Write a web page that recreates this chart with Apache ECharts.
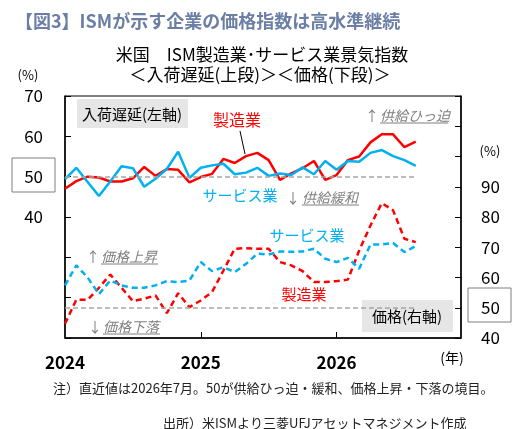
<!DOCTYPE html>
<html>
<head>
<meta charset="utf-8">
<script src="https://cdn.jsdelivr.net/npm/echarts@6/dist/echarts.min.js"></script>
<style>
  html, body { margin: 0; padding: 0; background: #fff; }
  #chart { width: 529px; height: 429px; }
</style>
</head>
<body>
<div id="chart"></div>
<script>
//月次カテゴリ（2024年1月～2026年12月）
var months = [];
[2024, 2025, 2026].forEach(function (y) {
    for (var m = 1; m <= 12; m++) months.push(y + '-' + (m < 10 ? '0' + m : m));
});

//入荷遅延（左軸）
var mfg_delivery = [47.0, 48.9, 50.0, 49.8, 48.8, 48.8, 49.6, 52.4, 50.2, 51.9, 51.7, 48.6,
    49.9, 50.7, 54.4, 53.4, 55.1, 55.9, 54.1, 49.2, 50.8, 52.1, 53.9, 49.2,
    50.4, 54.1, 55.0, 58.5, 60.5, 60.5, 57.3, 58.7];
var svc_delivery = [49.4, 52.2, 48.7, 45.2, 48.8, 52.6, 52.1, 47.5, 49.5, 51.9, 56.2, 49.7,
    52.2, 52.8, 53.2, 50.6, 51.0, 52.2, 50.2, 50.8, 50.4, 52.3, 50.6, 53.9,
    51.7, 53.9, 53.7, 55.9, 56.6, 55.1, 54.1, 52.7];

//価格（右軸）
var mfg_prices = [44.7, 52.7, 52.6, 56.6, 61.0, 56.6, 52.2, 53.0, 54.1, 48.2, 54.8, 50.2,
    52.4, 55.2, 62.3, 69.5, 69.7, 69.5, 69.5, 65.1, 64.0, 62.1, 58.5, 58.5,
    58.8, 59.3, 68.9, 77.2, 84.6, 82.2, 72.8, 71.7];
var svc_prices = [57.4, 64.0, 60.0, 54.5, 59.0, 57.4, 56.6, 56.6, 57.4, 58.8, 58.5, 59.0,
    65.1, 62.1, 63.4, 61.8, 64.5, 67.9, 67.6, 68.6, 68.5, 68.6, 69.5, 66.2,
    65.1, 66.5, 62.9, 70.9, 70.9, 71.4, 68.4, 70.4];

var year_labels = { 0: '2024', 12: '2025', 24: '2026' };
var font = '"Noto Sans CJK JP", "Noto Sans", sans-serif';
var red = '#ff0000';
var blue = '#00b0f0';
var note_gray = '#7f7f7f';

//境目50の破線
function boundary(axisIndex) {
    return {
        symbol: 'none',
        silent: true,
        label: { show: false },
        lineStyle: { color: '#a6a6a6', width: 1.5, type: [5, 3] },
        data: [[{ coord: [months[0], 50] }, { coord: [months[mfg_delivery.length - 1], 50] }]]
    };
}

function txt(x, y, text, opt) {
    opt = opt || {};
    return {
        type: 'text', x: x, y: y, z: 10,
        style: {
            text: text,
            font: (opt.style || '') + ' ' + (opt.weight || 'normal') + ' ' + (opt.size || 15) + 'px ' + font,
            fill: opt.color || '#000',
            align: opt.align || 'center',
            verticalAlign: 'middle'
        }
    };
}

function box(x, y, w, h, fill, stroke) {
    return {
        type: 'rect', z: 5,
        shape: { x: x, y: y, width: w, height: h },
        style: { fill: fill || 'none', stroke: stroke || 'none', lineWidth: 1 }
    };
}

function uline(x1, x2, y) {
    return {
        type: 'line', z: 10,
        shape: { x1: x1, y1: y, x2: x2, y2: y },
        style: { stroke: note_gray, lineWidth: 1 }
    };
}

var chart = echarts.init(document.getElementById('chart'));
var option = {
    animation: false,
    title: {
        text: '【図3】ISMが示す企業の価格指数は高水準継続',
        left: 10, top: 7,
        textStyle: { fontFamily: font, fontSize: 18, fontWeight: 'bold', color: '#6b7fa6' }
    },
    grid: {
        left: 65, right: 68, top: 96, bottom: 91,
        show: true, borderColor: '#000', borderWidth: 1
    },
    xAxis: {
        type: 'category',
        data: months,
        boundaryGap: false,
        axisLine: { lineStyle: { color: '#000', width: 1.5 } },
        axisTick: {
            inside: true, length: 6,
            interval: function (i) { return i === 12 || i === 24; },
            lineStyle: { color: '#000' }
        },
        axisLabel: {
            interval: function (i) { return year_labels[i] !== undefined; },
            formatter: function (v, i) { return year_labels[i] || ''; },
            margin: 16, fontFamily: font, fontSize: 17, fontWeight: 'bold', color: '#000'
        },
        splitLine: { show: false }
    },
    yAxis: [
        {
            type: 'value', min: 10, max: 70, interval: 10,
            axisLine: { show: true, lineStyle: { color: '#000', width: 1.5 } },
            axisTick: { show: true, inside: true, length: 6, lineStyle: { color: '#000' } },
            axisLabel: {
                margin: 22, fontFamily: font, fontSize: 17, color: '#000',
                formatter: function (v) { return v >= 40 ? v : ''; }
            },
            splitLine: { show: false }
        },
        {
            type: 'value', min: 40, max: 120, interval: 10, position: 'right',
            axisLine: { show: true, lineStyle: { color: '#000', width: 1.5 } },
            axisTick: { show: true, inside: true, length: 6, lineStyle: { color: '#000' } },
            axisLabel: {
                margin: 20, fontFamily: font, fontSize: 17, color: '#000',
                formatter: function (v) { return v <= 90 ? v : ''; }
            },
            splitLine: { show: false }
        }
    ],
    series: [
        {
            name: '製造業 入荷遅延', type: 'line', yAxisIndex: 0, data: mfg_delivery,
            symbol: 'none', lineStyle: { color: red, width: 2.5 },
            markLine: boundary(0)
        },
        {
            name: 'サービス業 入荷遅延', type: 'line', yAxisIndex: 0, data: svc_delivery,
            symbol: 'none', lineStyle: { color: blue, width: 2.5 }
        },
        {
            name: '製造業 価格', type: 'line', yAxisIndex: 1, data: mfg_prices,
            symbol: 'none', lineStyle: { color: red, width: 2.5, type: [6, 4] },
            markLine: boundary(1)
        },
        {
            name: 'サービス業 価格', type: 'line', yAxisIndex: 1, data: svc_prices,
            symbol: 'none', lineStyle: { color: blue, width: 2.5, type: [6, 4] }
        }
    ],
    graphic: [
        //サブタイトル
        txt(262, 55, '米国　ISM製造業･サービス業景気指数', { size: 17 }),
        txt(260, 75, '＜入荷遅延(上段)＞＜価格(下段)＞', { size: 17 }),
        txt(28, 75, '(%)', { size: 13 }),
        txt(490, 151, '(%)', { size: 13 }),
        txt(452, 358, '(年)', { size: 14 }),
        //50の枠
        box(12, 158, 43, 34, null, '#7f7f7f'),
        box(468, 288, 43, 34, null, '#7f7f7f'),
        //凡例ボックス
        box(77, 99, 111, 29, '#e6e6e6'),
        txt(132, 114, '入荷遅延(左軸)', { size: 15 }),
        box(362, 300, 91, 32, '#e6e6e6'),
        txt(407, 316, '価格(右軸)', { size: 15 }),
        //系列ラベル
        txt(237, 120, '製造業', { size: 16, color: red }),
        {
            type: 'line', z: 10,
            shape: { x1: 240, y1: 131, x2: 245, y2: 154 },
            style: { stroke: '#000', lineWidth: 1 }
        },
        txt(240, 195, 'サービス業', { size: 15, color: blue }),
        txt(307, 235, 'サービス業', { size: 15, color: blue }),
        txt(304, 294, '製造業', { size: 15, color: red }),
        //注釈
        txt(372, 116, '↑', { size: 14, color: note_gray }),
        txt(380, 116, '供給ひっ迫', { size: 14, color: note_gray, style: 'italic', align: 'left' }),
        uline(380, 448, 123),
        txt(293, 198, '↓', { size: 14, color: note_gray }),
        txt(302, 198, '供給緩和', { size: 14, color: note_gray, style: 'italic', align: 'left' }),
        uline(302, 359, 205),
        txt(93, 257, '↑', { size: 14, color: note_gray }),
        txt(101, 257, '価格上昇', { size: 14, color: note_gray, style: 'italic', align: 'left' }),
        uline(101, 158, 264),
        txt(95, 327, '↓', { size: 14, color: note_gray }),
        txt(103, 327, '価格下落', { size: 14, color: note_gray, style: 'italic', align: 'left' }),
        uline(103, 160, 334),
        //注・出所
        txt(53, 388, '注）直近値は2026年7月。50が供給ひっ迫・緩和、価格上昇・下落の境目。', { size: 13, align: 'left', color: '#222' }),
        txt(163, 423, '出所）米ISMより三菱UFJアセットマネジメント作成', { size: 13, align: 'left', color: '#222' })
    ]
};
chart.setOption(option, true);
</script>
</body>
</html>
